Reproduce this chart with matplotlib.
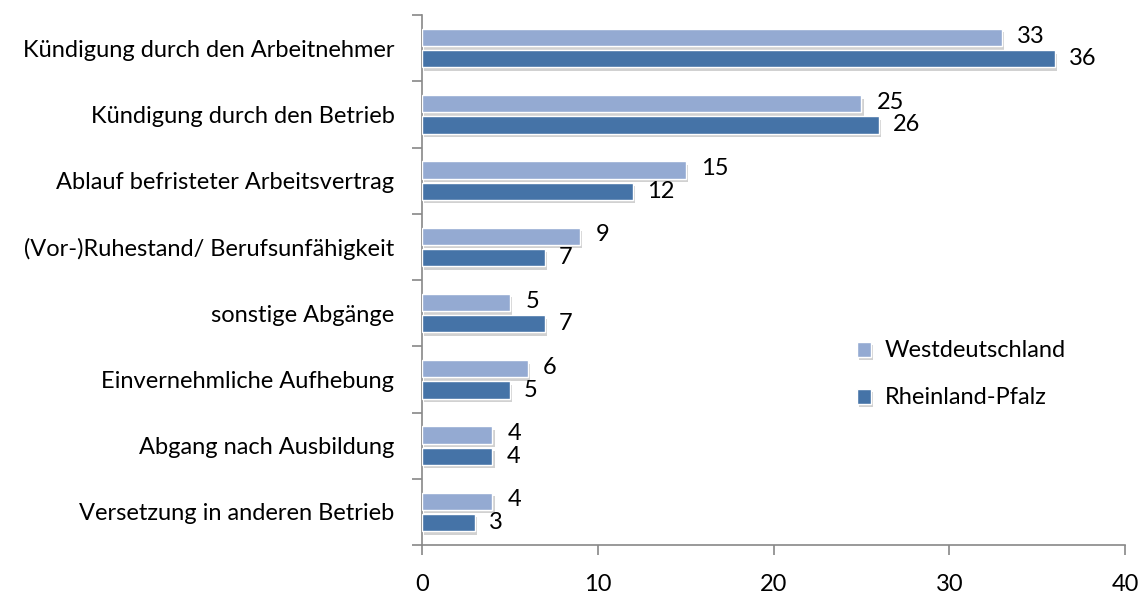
import matplotlib.pyplot as plt
import matplotlib.patheffects as pe

categories = [
    'Kündigung durch den Arbeitnehmer',
    'Kündigung durch den Betrieb',
    'Ablauf befristeter Arbeitsvertrag',
    '(Vor-)Ruhestand/ Berufsunfähigkeit',
    'sonstige Abgänge',
    'Einvernehmliche Aufhebung',
    'Abgang nach Ausbildung',
    'Versetzung in anderen Betrieb',
]
west = [33, 25, 15, 9, 5, 6, 4, 4]
rlp = [36, 26, 12, 7, 7, 5, 4, 3]

plt.rcParams['font.family'] = ['Lato', 'DejaVu Sans']
fs = 17

fig = plt.figure(figsize=(11.41, 5.99), dpi=100)
ax = fig.add_axes([0.370, 0.090, 0.616, 0.885])

shadow = [pe.SimplePatchShadow(offset=(1.5, -2.5), shadow_rgbFace='#999999', alpha=0.45), pe.Normal()]
y = list(range(len(categories)))
off = 0.16
h = 0.26
b1 = ax.barh([i - off for i in y], west, height=h, color='#94aad2',
             edgecolor='white', linewidth=1, label='Westdeutschland', zorder=3)
b2 = ax.barh([i + off for i in y], rlp, height=h, color='#4573a7',
             edgecolor='white', linewidth=1, label='Rheinland-Pfalz', zorder=3)
for b in list(b1) + list(b2):
    b.set_path_effects(shadow)

for i in y:
    ax.annotate(str(west[i]), (west[i], i - off), xytext=(11, 1), textcoords='offset points',
                ha='left', va='center', fontsize=fs)
    ax.annotate(str(rlp[i]), (rlp[i], i + off), xytext=(10, 0), textcoords='offset points',
                ha='left', va='center', fontsize=fs)

ax.set_ylim(len(categories) - 0.5, -0.5)
ax.set_xlim(0, 40)
ax.set_xticks([0, 10, 20, 30, 40])
ax.set_yticks(y)
ax.set_yticklabels(categories, fontsize=fs)
ax.set_yticks([i - 0.5 for i in range(len(categories) + 1)], minor=True)
ax.tick_params(axis='y', which='major', length=0, pad=20)
ax.tick_params(axis='y', which='minor', length=7, color='#888888', width=1.2)
ax.tick_params(axis='x', length=7, color='#888888', width=1.2, labelsize=fs, pad=14)

for s in ['top', 'right']:
    ax.spines[s].set_visible(False)
ax.spines['left'].set_color('#888888')
ax.spines['bottom'].set_color('#888888')
ax.spines['left'].set_linewidth(1.2)
ax.spines['bottom'].set_linewidth(1.2)

ax.legend(loc='center left', bbox_to_anchor=(0.588, 0.322), frameon=False, fontsize=fs,
          handlelength=0.6, handleheight=0.6, labelspacing=1.1, handletextpad=0.6)

fig.savefig('out.png', dpi=100)
